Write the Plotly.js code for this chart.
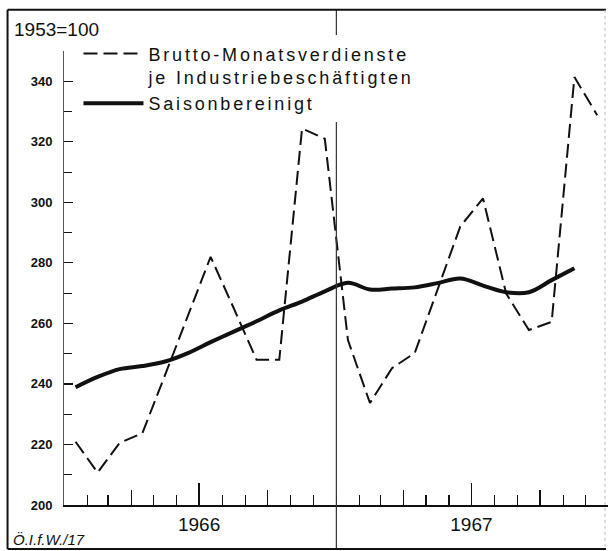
<!DOCTYPE html>
<html><head><meta charset="utf-8">
<script src="https://cdn.plot.ly/plotly-3.0.1.min.js"></script>
<style>
html,body{margin:0;padding:0;background:#fff;}
#chart{width:608px;height:551px;}
.legendtext{letter-spacing:2.8px;}
</style></head><body><div id="chart"></div>
<script>
// ---- data ----
const months = ['1966-01','1966-02','1966-03','1966-04','1966-05','1966-06','1966-07','1966-08','1966-09','1966-10','1966-11','1966-12',
                '1967-01','1967-02','1967-03','1967-04','1967-05','1967-06','1967-07','1967-08','1967-09','1967-10','1967-11','1967-12'];
const brutto = [220.9,210.7,220.5,223.7,243,262.5,282,265,248,248,324.4,321,
                254.5,233.7,245.2,250.2,271,292,301.3,269.9,257.8,260.5,341.4,328.8];
const saisonMonths = months.slice(0,23);
const saison = [238.9,242.3,244.9,245.9,247.4,250.2,253.8,257.3,260.7,264.3,267.2,270.6,
                273.4,271.2,271.5,271.9,273.3,274.8,272.5,270.3,270.3,274.3,278.2];
const yTickVals = [200,220,240,260,280,300,320,340];
const quarterTicks = ['1966-04-01','1966-10-01','1967-04-01','1967-10-01'];
const yearTickVals = ['1966-07-01','1967-07-01'];
const yearLabels = ['1966','1967'];
const seriesNames = ['Brutto-Monatsverdienste<br>je Industriebeschäftigten','Saisonbereinigt'];
const baseNote = '1953=100';
const sourceNote = 'Ö.I.f.W./17';

// ---- geometry ----
const W=608,H=551,L=63.5,R=0,T=50.7,B=46;
const px2x = px => (px-L)/(W-L-R);
const px2y = py => (H-B-py)/(H-T-B);
const xRange = ['1966-01-01','1967-12-31'];

const traces = [
  {x: months, y: brutto, name: seriesNames[0], type:'scatter', mode:'lines',
   xperiod:'M1', xperiodalignment:'middle',
   line:{color:'#111', width:2, dash:'14px,6px'}},
  {x: saisonMonths, y: saison, name: seriesNames[1], type:'scatter', mode:'lines',
   xperiod:'M1', xperiodalignment:'middle',
   line:{color:'#111', width:4, shape:'spline', smoothing:1}},
  {x: yearTickVals, y:[null,null], xaxis:'x2', yaxis:'y', showlegend:false, hoverinfo:'skip', mode:'lines'}
];

const fontFam = '"Liberation Sans", Arial, sans-serif';
const layout = {
  width:W, height:H,
  margin:{l:L, r:R, t:T, b:B, pad:0},
  paper_bgcolor:'#fff', plot_bgcolor:'#fff',
  font:{family:fontFam, color:'#111'},
  showlegend:true,
  legend:{x:px2x(78), y:px2y(35), xanchor:'left', yanchor:'top',
          bgcolor:'#fff', borderwidth:0, valign:'top', itemwidth:60,
          font:{family:fontFam, size:18, color:'#111'}, tracegroupgap:0},
  xaxis:{type:'date', range:xRange, showgrid:false, zeroline:false,
         showline:true, linecolor:'#111', linewidth:1.5,
         ticks:'inside', tickvals:quarterTicks, ticklen:15, tickwidth:1.3, tickcolor:'#111',
         showticklabels:false,
         minor:{ticks:'inside', dtick:'M1', tick0:'1966-01-01', ticklen:10, tickwidth:1.2, tickcolor:'#111', showgrid:false}},
  xaxis2:{type:'date', range:xRange, overlaying:'x', anchor:'y', side:'bottom',
          showgrid:false, zeroline:false, showline:false,
          ticks:'inside', tickvals:yearTickVals, ticktext:yearLabels, ticklen:22, tickwidth:1.5, tickcolor:'#111',
          ticklabelstandoff:6, tickfont:{family:fontFam, size:19, color:'#111'}},
  yaxis:{range:[200,350], showgrid:false, zeroline:false,
         showline:true, linecolor:'#555', linewidth:1,
         ticks:'inside', tickvals:yTickVals, ticklen:9, tickwidth:1.2, tickcolor:'#111',
         ticklabelstandoff:8,
         tickfont:{family:fontFam, size:13, color:'#111', weight:'bold'},
         minor:{ticks:'inside', dtick:10, tick0:200, ticklen:8, tickwidth:1, tickcolor:'#111', showgrid:false}},
  shapes:[
    {type:'line', xref:'x', yref:'paper', x0:'1967-01-01', x1:'1967-01-01', y0:px2y(549), y1:px2y(9.5),
     line:{color:'#333', width:1.2}, layer:'above'},
    {type:'line', xref:'paper', yref:'paper', x0:px2x(7), x1:px2x(7), y0:px2y(9.5), y1:px2y(549), line:{color:'#111', width:2}},
    {type:'line', xref:'paper', yref:'paper', x0:px2x(7), x1:px2x(606), y0:px2y(9.5), y1:px2y(9.5), line:{color:'#111', width:2}},
    {type:'line', xref:'paper', yref:'paper', x0:px2x(7), x1:px2x(606), y0:px2y(549), y1:px2y(549), line:{color:'#111', width:2}},
    {type:'line', xref:'paper', yref:'paper', x0:px2x(605), x1:px2x(605), y0:px2y(9.5), y1:px2y(549), line:{color:'#bbb', width:1, dash:'dot'}}
  ],
  annotations:[
    {text:baseNote, xref:'paper', yref:'paper', x:px2x(11), y:px2y(29), xanchor:'left', yanchor:'middle',
     showarrow:false, font:{family:fontFam, size:19, color:'#111'}},
    {text:sourceNote, xref:'paper', yref:'paper', x:px2x(10), y:px2y(540), xanchor:'left', yanchor:'middle',
     showarrow:false, font:{family:fontFam, size:15, color:'#111', style:'italic'}}
  ]
};
Plotly.newPlot('chart', traces, layout, {staticPlot:true, displayModeBar:false});
</script></body></html>
